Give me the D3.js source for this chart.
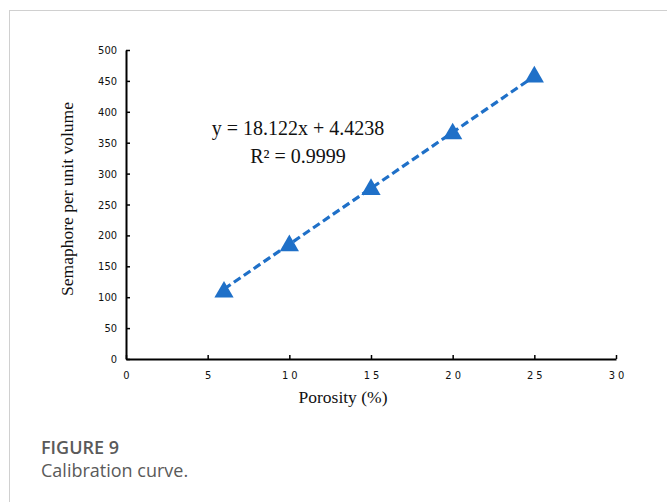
<!DOCTYPE html>
<meta charset="utf-8">
<style>
body { margin: 0; background: #fff; }
.tick text { font-family: "DejaVu Sans Condensed", "Liberation Sans Narrow", sans-serif; font-size: 11px; fill: #111; }
.title { font-family: "Liberation Serif", serif; fill: #111; }
.cap { font-family: "Open Sans", "Noto Sans", sans-serif; fill: #5a5a5a; }
</style>
<svg width="667" height="502"></svg>
<script src="https://cdn.jsdelivr.net/npm/d3@7"></script>
<script>

// measured points
var porosity = [6, 10, 15, 20, 25];
var semaphore = [110, 185, 276, 366, 458];

// linear fit as printed on the chart
var fitSlope = 18.122, fitIntercept = 4.4238;
var fitRange = [6, 25];

var xTicks = [0, 5, 10, 15, 20, 25, 30];
var yTicks = [0, 50, 100, 150, 200, 250, 300, 350, 400, 450, 500];

var svg = d3.select("svg");

// frame
svg.append("line").attr("x1", 9).attr("x2", 667).attr("y1", 10.5).attr("y2", 10.5)
  .attr("stroke", "#d0d0d0").attr("stroke-width", 1);
svg.append("line").attr("x1", 9.5).attr("x2", 9.5).attr("y1", 10).attr("y2", 502)
  .attr("stroke", "#d0d0d0").attr("stroke-width", 1);

var x = d3.scaleLinear().domain([0, 30]).range([126, 616]);
var y = d3.scaleLinear().domain([0, 500]).range([359, 50]);

var xAxis = svg.append("g")
    .attr("transform", "translate(0," + y(0) + ")")
    .call(d3.axisBottom(x).tickValues(xTicks).tickSizeInner(-4).tickSizeOuter(0).tickPadding(12));
xAxis.selectAll(".tick text").attr("letter-spacing", "3px").attr("dx", "1.5px");

var yAxis = svg.append("g")
    .attr("transform", "translate(" + x(0) + ",0)")
    .call(d3.axisLeft(y).tickValues(yTicks).tickSizeInner(-4).tickSizeOuter(0).tickPadding(9));

svg.selectAll(".domain").attr("stroke", "#000").attr("stroke-width", 2);
svg.selectAll(".tick line").attr("stroke", "#000").attr("stroke-width", 1.5);

// trend line
svg.append("line")
  .attr("x1", x(fitRange[0])).attr("y1", y(fitSlope * fitRange[0] + fitIntercept))
  .attr("x2", x(fitRange[1])).attr("y2", y(fitSlope * fitRange[1] + fitIntercept))
  .attr("stroke", "#1f70c8").attr("stroke-width", 3.2)
  .attr("stroke-dasharray", "8,4");

// markers
var tri = d3.symbol().type(d3.symbolTriangle).size(160);
svg.selectAll("path.pt")
  .data(porosity)
  .enter().append("path")
  .attr("class", "pt")
  .attr("d", tri)
  .attr("transform", function(d, i) { return "translate(" + x(d) + "," + (y(semaphore[i]) + 1) + ")"; })
  .attr("fill", "#1f70c8");

// equation
svg.append("text").attr("class", "title").attr("x", 298).attr("y", 135)
  .attr("text-anchor", "middle").attr("font-size", 20)
  .text("y = 18.122x + 4.4238");
svg.append("text").attr("class", "title").attr("x", 298).attr("y", 163)
  .attr("text-anchor", "middle").attr("font-size", 20)
  .text("R² = 0.9999");

// axis titles
svg.append("text").attr("class", "title")
  .attr("transform", "translate(73,199) rotate(-90)")
  .attr("text-anchor", "middle").attr("font-size", 17.5)
  .text("Semaphore per unit volume");
svg.append("text").attr("class", "title").attr("x", 343).attr("y", 403)
  .attr("text-anchor", "middle").attr("font-size", 17.5)
  .text("Porosity (%)");

// caption
svg.append("text").attr("class", "cap").attr("x", 41).attr("y", 454)
  .attr("font-size", 18).attr("font-weight", 600).text("FIGURE 9");
svg.append("text").attr("class", "cap").attr("x", 41).attr("y", 477)
  .attr("font-size", 18).attr("fill", "#666").text("Calibration curve.");

</script>
